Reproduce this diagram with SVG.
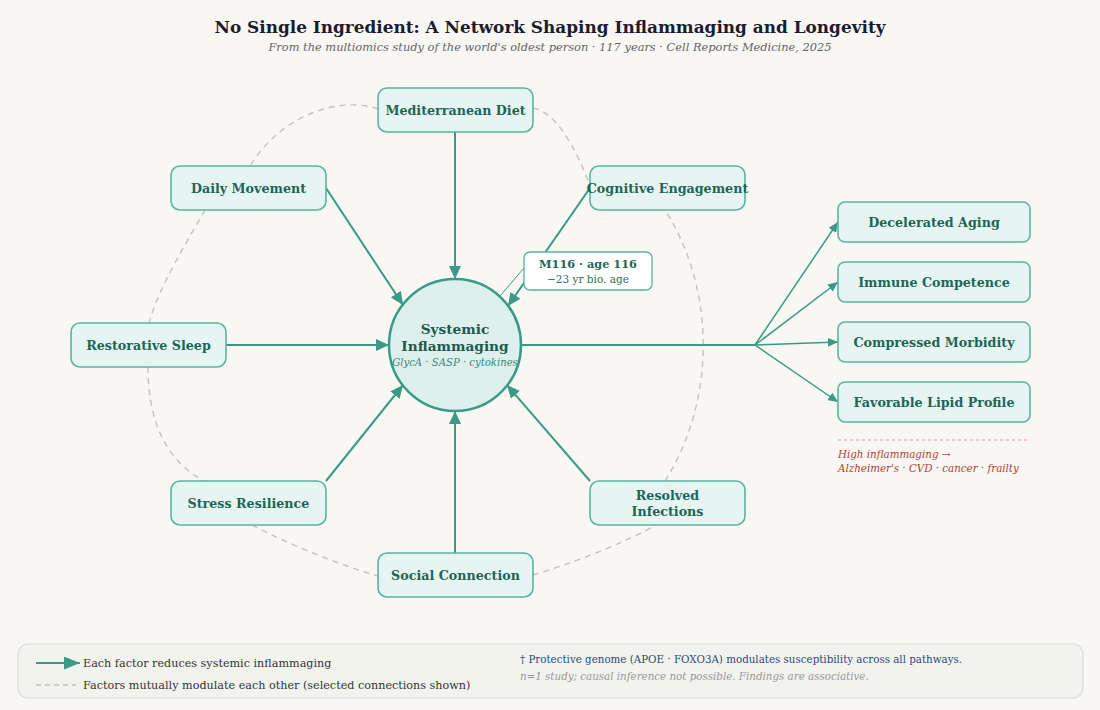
<svg xmlns="http://www.w3.org/2000/svg" width="1100" height="710" viewBox="0 0 1100 710">
<defs>
<style>
text{font-family:"DejaVu Serif","Liberation Serif",serif}
.title{font-size:16.9px;font-weight:bold;fill:#1c1c30}
.sub{font-size:11.4px;font-style:italic;fill:#666}
.node rect{fill:#e6f5f1;stroke:#5bb3a1;stroke-width:1.6}
.nt{font-size:12.7px;font-weight:bold;fill:#1d6657;text-anchor:middle}
.arr{stroke:#3a9a87;stroke-width:2;fill:none}
.out{stroke:#3a9a87;stroke-width:1.5;fill:none}
.dash{stroke:#c4c2bc;stroke-width:1.4;fill:none;stroke-dasharray:6,5}
</style>
<marker id="ah" markerUnits="userSpaceOnUse" markerWidth="14" markerHeight="12" refX="13" refY="6" orient="auto"><path d="M0,0 L13,6 L0,12 z" fill="#3a9a87"/></marker>
<marker id="ahs" markerUnits="userSpaceOnUse" markerWidth="11" markerHeight="9" refX="10" refY="4.5" orient="auto"><path d="M0,0 L10,4.5 L0,9 z" fill="#3a9a87"/></marker>
<marker id="ahl" markerUnits="userSpaceOnUse" markerWidth="17" markerHeight="13" refX="16" refY="6.5" orient="auto"><path d="M0,0 L16,6.5 L0,13 z" fill="#3a9a87"/></marker>
</defs>
<rect width="1100" height="710" fill="#f8f7f3"/>
<text class="title" x="550" y="33" text-anchor="middle">No Single Ingredient: A Network Shaping Inflammaging and Longevity</text>
<text class="sub" x="550" y="51" text-anchor="middle">From the multiomics study of the world's oldest person · 117 years · Cell Reports Medicine, 2025</text>

<g id="modulation">
<path class="dash" d="M378,109 C345,97 285,110 250,166"/>
<path class="dash" d="M533,108 C555,112 575,145 590,186"/>
<path class="dash" d="M205,210 C185,245 160,285 149,323"/>
<path class="dash" d="M148,367 C148,420 165,460 204,481"/>
<path class="dash" d="M252,525 C290,545 340,565 378,576"/>
<path class="dash" d="M533,575 C570,564 620,545 656,525"/>
<path class="dash" d="M665,481 C716,400 716,290 665,210"/>
</g>

<g id="connectors">
<line class="arr" x1="455" y1="132" x2="455" y2="279" marker-end="url(#ah)"/>
<line class="arr" x1="326" y1="188" x2="403" y2="305" marker-end="url(#ah)"/>
<line class="arr" x1="590" y1="188" x2="508" y2="306" marker-end="url(#ah)"/>
<line class="arr" x1="226" y1="345" x2="389" y2="345" marker-end="url(#ah)"/>
<line class="arr" x1="326" y1="481" x2="403" y2="385" marker-end="url(#ah)"/>
<line class="arr" x1="590" y1="481" x2="507" y2="385" marker-end="url(#ah)"/>
<line class="arr" x1="455" y1="553" x2="455" y2="411" marker-end="url(#ah)"/>
<line class="arr" x1="521" y1="345" x2="755" y2="345"/>
<line class="out" x1="755" y1="345" x2="838" y2="222" marker-end="url(#ahs)"/>
<line class="out" x1="755" y1="345" x2="838" y2="282" marker-end="url(#ahs)"/>
<line class="out" x1="755" y1="345" x2="838" y2="342" marker-end="url(#ahs)"/>
<line class="out" x1="755" y1="345" x2="838" y2="402" marker-end="url(#ahs)"/>
<line x1="524" y1="268" x2="500" y2="296" stroke="#3a9a87" stroke-width="1"/>
</g>

<g id="center">
<circle cx="455" cy="345" r="66" fill="#ddf0ec" stroke="#3a9a87" stroke-width="2.5"/>
<text x="455" y="334" text-anchor="middle" font-size="13.7" font-weight="bold" fill="#1d5a4e">Systemic</text>
<text x="455" y="351" text-anchor="middle" font-size="13.7" font-weight="bold" fill="#1d5a4e">Inflammaging</text>
<text x="455" y="366" text-anchor="middle" font-size="10.1" font-style="italic" fill="#3a8a7a">GlycA · SASP · cytokines</text>
</g>

<g id="n-diet" class="node"><rect x="378" y="88" width="155" height="44" rx="9"/><text class="nt" x="455.5" y="115">Mediterranean Diet</text></g>
<g id="n-move" class="node"><rect x="171" y="166" width="155" height="44" rx="9"/><text class="nt" x="248.5" y="193">Daily Movement</text></g>
<g id="n-cog" class="node"><rect x="590" y="166" width="155" height="44" rx="9"/><text class="nt" x="667.5" y="193">Cognitive Engagement</text></g>
<g id="n-sleep" class="node"><rect x="71" y="323" width="155" height="44" rx="9"/><text class="nt" x="148.5" y="350">Restorative Sleep</text></g>
<g id="n-stress" class="node"><rect x="171" y="481" width="155" height="44" rx="9"/><text class="nt" x="248.5" y="508">Stress Resilience</text></g>
<g id="n-inf" class="node"><rect x="590" y="481" width="155" height="44" rx="9"/><text class="nt" x="667.5" y="500">Resolved</text><text class="nt" x="667.5" y="516">Infections</text></g>
<g id="n-social" class="node"><rect x="378" y="553" width="155" height="44" rx="9"/><text class="nt" x="455.5" y="580">Social Connection</text></g>

<g id="callout">
<rect x="524" y="252" width="128" height="38" rx="6" fill="#ffffff" stroke="#5bb3a1" stroke-width="1.3"/>
<text x="588" y="268" text-anchor="middle" font-size="11.3" font-weight="bold" fill="#1d6657">M116 · age 116</text>
<text x="588" y="283" text-anchor="middle" font-size="10.5" fill="#2d6e60">−23 yr bio. age</text>
</g>

<g id="o-aging" class="node"><rect x="838" y="202" width="192" height="40" rx="7"/><text class="nt" x="934" y="227">Decelerated Aging</text></g>
<g id="o-immune" class="node"><rect x="838" y="262" width="192" height="40" rx="7"/><text class="nt" x="934" y="287">Immune Competence</text></g>
<g id="o-morb" class="node"><rect x="838" y="322" width="192" height="40" rx="7"/><text class="nt" x="934" y="347">Compressed Morbidity</text></g>
<g id="o-lipid" class="node"><rect x="838" y="382" width="192" height="40" rx="7"/><text class="nt" x="934" y="407">Favorable Lipid Profile</text></g>

<g id="risk">
<line x1="838" y1="440" x2="1028" y2="440" stroke="#e8958d" stroke-width="1.2" stroke-dasharray="3,3"/>
<text x="838" y="458" font-size="10.3" font-style="italic" fill="#b0413a">High inflammaging →</text>
<text x="838" y="472" font-size="10.3" font-style="italic" fill="#b0413a">Alzheimer's · CVD · cancer · frailty</text>
</g>

<g id="legend">
<rect x="18" y="644" width="1065" height="54" rx="10" fill="#f3f3ee" stroke="#dcdcd6" stroke-width="1.2"/>
<line x1="36" y1="663" x2="80" y2="663" stroke="#3a9a87" stroke-width="2" marker-end="url(#ahl)"/>
<text x="83" y="667" font-size="11.2" fill="#333">Each factor reduces systemic inflammaging</text>
<line x1="36" y1="685" x2="76" y2="685" stroke="#c4c2bc" stroke-width="1.4" stroke-dasharray="5,4"/>
<text x="83" y="689" font-size="11.2" fill="#333">Factors mutually modulate each other (selected connections shown)</text>
<text x="520" y="663" font-size="10.3" fill="#2c4a7a">† Protective genome (APOE · FOXO3A) modulates susceptibility across all pathways.</text>
<text x="520" y="680" font-size="10.3" font-style="italic" fill="#999">n=1 study; causal inference not possible. Findings are associative.</text>
</g>
</svg>
